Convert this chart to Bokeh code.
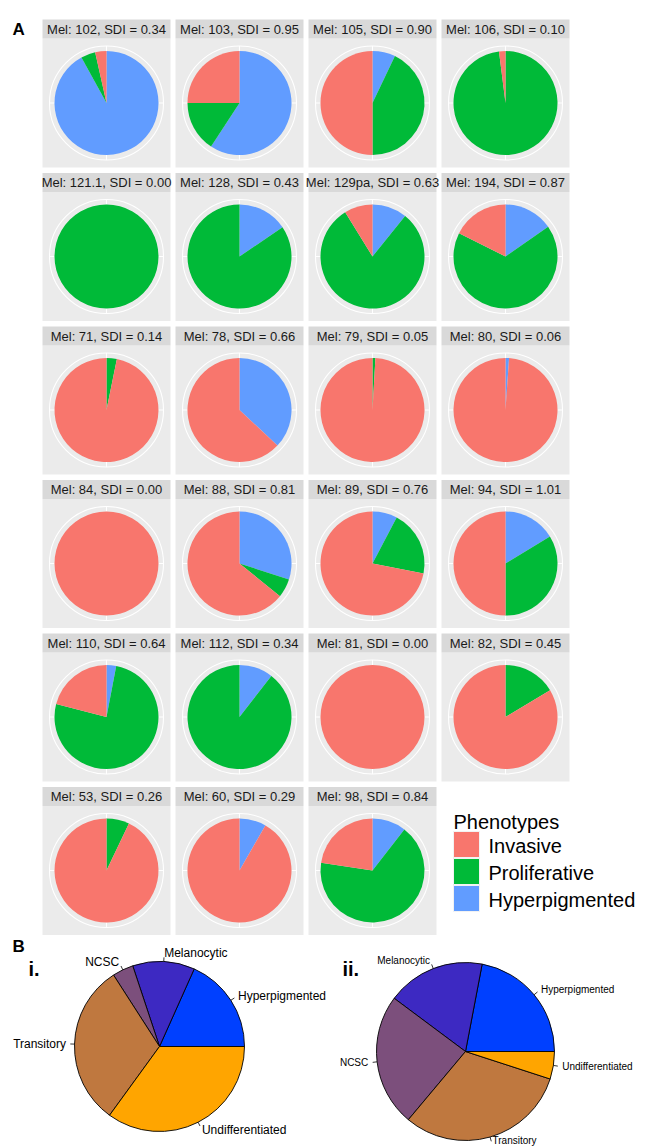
import math
from bokeh.plotting import figure
from bokeh.models import Range1d, ColumnDataSource
from bokeh.core.properties import value
from bokeh.embed import file_html
from bokeh.resources import INLINE

# ---------------- data ----------------
samples = ["102", "103", "105", "106", "121.1", "128", "129pa", "194",
           "71", "78", "79", "80", "84", "88", "89", "94",
           "110", "112", "81", "82", "53", "60", "98"]
sdi = [0.34, 0.95, 0.90, 0.10, 0.00, 0.43, 0.63, 0.87,
       0.14, 0.66, 0.05, 0.06, 0.00, 0.81, 0.76, 1.01,
       0.64, 0.34, 0.00, 0.45, 0.26, 0.29, 0.84]
invasive = [0.035, 0.25, 0.50, 0.02, 0.0, 0.0, 0.088, 0.176,
            0.968, 0.63, 0.991, 0.989, 1.0, 0.642, 0.719, 0.50,
            0.21, 0.0, 1.0, 0.836, 0.929, 0.917, 0.226]
proliferative = [0.045, 0.158, 0.429, 0.98, 1.0, 0.845, 0.804, 0.671,
                 0.032, 0.0, 0.009, 0.0, 0.0, 0.058, 0.204, 0.337,
                 0.76, 0.895, 0.0, 0.164, 0.071, 0.0, 0.669]
hyperpigmented = [0.92, 0.592, 0.071, 0.0, 0.0, 0.155, 0.108, 0.153,
                  0.0, 0.37, 0.0, 0.011, 0.0, 0.30, 0.077, 0.163,
                  0.03, 0.105, 0.0, 0.0, 0.0, 0.083, 0.105]

phenotypes = ["Invasive", "Proliferative", "Hyperpigmented"]
phenotype_colors = ["#F8766D", "#00BA38", "#619CFF"]

states = ["Hyperpigmented", "Melanocytic", "NCSC", "Transitory", "Undifferentiated"]
cohort_i = [0.183, 0.118, 0.040, 0.309, 0.350]
cohort_ii = [0.220, 0.178, 0.241, 0.311, 0.050]
state_colors = ["#0040FF", "#3D29C2", "#7C4F7C", "#BF783F", "#FFA500"]

# ---------------- layout ----------------
W, H = 646, 1147
col_left = [42, 175, 308, 441]
row_top = [19, 172.5, 326, 479.5, 633, 786.5]
panel_w, strip_h, body_h = 128, 19, 129
pie_r, ring_r = 52, 57
FONT = value("Liberation Sans")


def Y(v):
    return H - v


p = figure(width=W, height=H, x_range=Range1d(0, W), y_range=Range1d(0, H),
           output_backend="svg", toolbar_location=None, min_border=0,
           x_axis_type=None, y_axis_type=None)
p.grid.visible = False
p.outline_line_color = None
p.background_fill_color = "white"
p.border_fill_color = "white"

FULL = 2 * math.pi * 0.99999

# facet panels
bg = dict(left=[], right=[], top=[], bottom=[])
st = dict(left=[], right=[], top=[], bottom=[])
lab = dict(x=[], y=[], text=[])
ring = dict(x=[], y=[])
ticks = dict(xs=[], ys=[])
wd = dict(x=[], y=[], start=[], end=[], color=[])

for k, name in enumerate(samples):
    r, c = divmod(k, 4)
    left, top = col_left[c], row_top[r]
    bg["left"].append(left); bg["right"].append(left + panel_w)
    bg["top"].append(Y(top + strip_h)); bg["bottom"].append(Y(top + strip_h + body_h))
    st["left"].append(left); st["right"].append(left + panel_w)
    st["top"].append(Y(top)); st["bottom"].append(Y(top + strip_h))
    lab["x"].append(left + panel_w / 2); lab["y"].append(Y(top + strip_h / 2))
    lab["text"].append(f"Mel: {name}, SDI = {sdi[k]:.2f}")
    cx, cy = left + panel_w / 2, Y(top + strip_h + body_h / 2)
    ring["x"].append(cx); ring["y"].append(cy)
    for a in range(4):
        ang = math.pi / 2 - a * math.pi / 2
        ticks["xs"].append([cx + pie_r * math.cos(ang), cx + ring_r * math.cos(ang)])
        ticks["ys"].append([cy + pie_r * math.sin(ang), cy + ring_r * math.sin(ang)])
    # stacked clockwise from 12 o'clock: Hyperpigmented, Proliferative, Invasive
    c0 = 0.0
    for frac, col in ((hyperpigmented[k], phenotype_colors[2]),
                      (proliferative[k], phenotype_colors[1]),
                      (invasive[k], phenotype_colors[0])):
        if frac <= 0:
            continue
        c1 = c0 + frac
        end = math.pi / 2 - 2 * math.pi * c0
        start = end - min(2 * math.pi * frac, FULL)
        wd["x"].append(cx); wd["y"].append(cy)
        wd["start"].append(start); wd["end"].append(end); wd["color"].append(col)
        c0 = c1

p.quad(source=ColumnDataSource(bg), left="left", right="right", top="top", bottom="bottom",
       fill_color="#EBEBEB", line_color=None)
p.quad(source=ColumnDataSource(st), left="left", right="right", top="top", bottom="bottom",
       fill_color="#D9D9D9", line_color=None)
p.circle(source=ColumnDataSource(ring), x="x", y="y", radius=ring_r,
         fill_color=None, line_color="white", line_width=1.1)
p.multi_line(source=ColumnDataSource(ticks), xs="xs", ys="ys", line_color="white", line_width=1.1)
p.wedge(source=ColumnDataSource(wd), x="x", y="y", radius=pie_r, start_angle="start",
        end_angle="end", direction="anticlock", fill_color="color", line_color=None)
p.text(source=ColumnDataSource(lab), x="x", y="y", text="text", text_font=FONT,
       text_font_size="13px", text_align="center", text_baseline="middle", text_color="#1A1A1A")

# legend
leg_x = 453
p.text(x=[leg_x], y=[Y(821)], text=["Phenotypes"], text_font=FONT, text_font_size="20px",
       text_baseline="alphabetic", text_color="black")
key_tops = [831, 858, 885]
p.quad(left=[leg_x] * 3, right=[leg_x + 26] * 3, top=[Y(t) for t in key_tops],
       bottom=[Y(t + 26) for t in key_tops], fill_color=phenotype_colors,
       line_color="#F2F2F2", line_width=1)
p.text(x=[488] * 3, y=[Y(t + 14) for t in key_tops], text=phenotypes, text_font=FONT,
       text_font_size="20px", text_baseline="middle", text_color="black")

# panel letters
p.text(x=[12, 12], y=[Y(29), Y(946)], text=["A", "B"], text_font=FONT, text_font_size="17px",
       text_font_style="bold", text_baseline="alphabetic", text_color="black")
p.text(x=[28, 342], y=[Y(968), Y(968)], text=["i.", "ii."], text_font=FONT,
       text_font_size="20px", text_font_style="bold", text_baseline="alphabetic",
       text_color="black")


# base-R style pies, counter-clockwise from 3 o'clock
def draw_pie(cx, cy, radius, fracs, font_size):
    total = sum(fracs)
    c0 = 0.0
    xs, ys, ts, aligns = [], [], [], []
    txs, tys = [], []
    starts, ends, cols = [], [], []
    for name, f, col in zip(states, fracs, state_colors):
        c1 = c0 + f / total
        starts.append(2 * math.pi * c0); ends.append(2 * math.pi * c1); cols.append(col)
        mid = math.pi * (c0 + c1)
        ux, uy = math.cos(mid), math.sin(mid)
        txs.append([cx + radius * ux, cx + 1.05 * radius * ux])
        tys.append([cy + radius * uy, cy + 1.05 * radius * uy])
        xs.append(cx + 1.1 * radius * ux)
        # keep labels inside the page
        ys.append(max(cy + 1.1 * radius * uy, 7))
        ts.append(name); aligns.append("left" if ux >= 0 else "right")
        c0 = c1
    p.wedge(x=cx, y=cy, radius=radius, start_angle=starts, end_angle=ends,
            direction="anticlock", fill_color=cols, line_color="black", line_width=0.9)
    p.multi_line(xs=txs, ys=tys, line_color="black", line_width=0.8)
    p.text(source=ColumnDataSource(dict(x=xs, y=ys, t=ts, a=aligns)), x="x", y="y", text="t",
           text_align="a", text_baseline="middle", text_font=FONT,
           text_font_size=font_size, text_color="black")


draw_pie(159, Y(1046), 85, cohort_i, "12px")
draw_pie(465, Y(1051), 89, cohort_ii, "10px")

open("out.html", "w").write(file_html(p, INLINE))
